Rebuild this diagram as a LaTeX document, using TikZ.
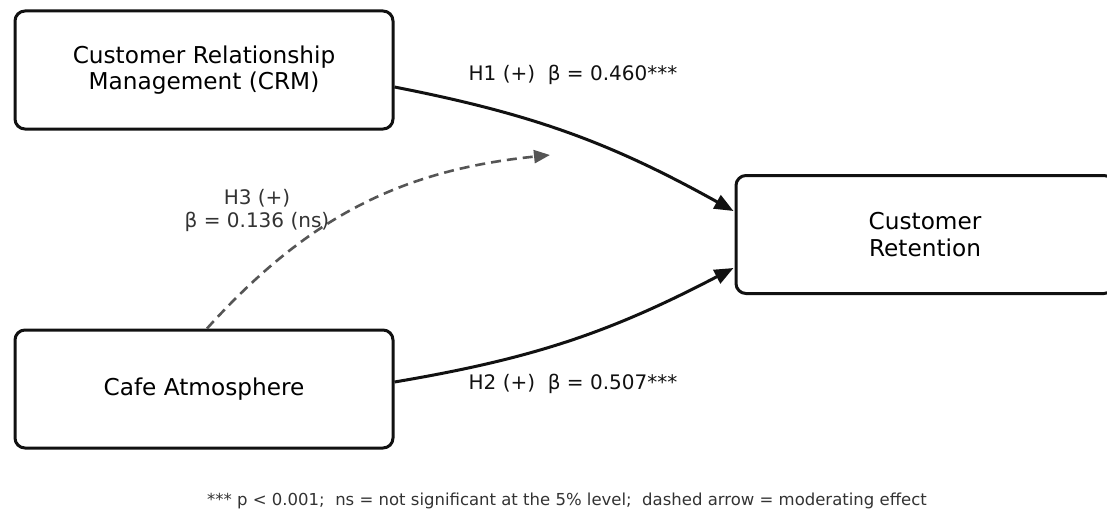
\documentclass[tikz,border=0pt]{standalone}
\usepackage{fontspec}
\setmainfont{DejaVu Sans}
\usetikzlibrary{arrows.meta}
\definecolor{arrowblk}{HTML}{111111}
\definecolor{modgray}{HTML}{555555}
\definecolor{txtgray}{HTML}{333333}
\begin{document}
\begin{tikzpicture}[x=1pt,y=-1pt,
  varbox/.style={draw=arrowblk, line width=3pt, rounded corners=10pt, fill=white,
    minimum width=378pt, minimum height=118pt, inner sep=0pt, align=center,
    font=\fontsize{23.2}{26.5}\selectfont},
  patharrow/.style={draw=arrowblk, line width=3pt, -{Triangle[length=19pt,width=15pt]}},
  modarrow/.style={draw=modgray, line width=2.6pt, dash pattern=on 10pt off 6pt,
    -{Triangle[length=16pt,width=13pt]}},
  pathlabel/.style={font=\fontsize{20}{23}\selectfont, text=arrowblk, align=center},
  modlabel/.style={font=\fontsize{20}{23}\selectfont, text=txtgray, align=center},
  footlabel/.style={font=\fontsize{16.5}{19}\selectfont, text=txtgray}
]
\useasboundingbox (0,0) rectangle (1107,511);
\fill[white] (0,0) rectangle (1107,511);

\node[varbox] (crm) at (204,70) {Customer Relationship\\Management (CRM)};
\node[varbox] (cafe) at (204,389) {Cafe Atmosphere};
\node[varbox] (ret) at (925,234.5) {Customer\\Retention};

\coordinate (mod) at (550,155);

\draw[patharrow] ([yshift=-17pt]crm.east) to[bend left=9] ([xshift=-1pt,yshift=23.5pt]ret.west);
\draw[patharrow] ([yshift=7pt]cafe.east) to[bend right=9] ([xshift=-1pt,yshift=-33.5pt]ret.west);
\draw[modarrow] ([xshift=3pt]cafe.north) to[bend left=21] (mod);

\node[pathlabel] (h1) at (573,75) {H1 (+)\ \ β = 0.460***};
\node[pathlabel] (h2) at (573,384) {H2 (+)\ \ β = 0.507***};
\node[modlabel] (h3) at (257,210) {H3 (+)\\β = 0.136 (ns)};
\node[footlabel] (foot) at (567,501) {*** p < 0.001;\ \ ns = not significant at the 5\% level;\ \ dashed arrow = moderating effect};
\end{tikzpicture}
\end{document}
